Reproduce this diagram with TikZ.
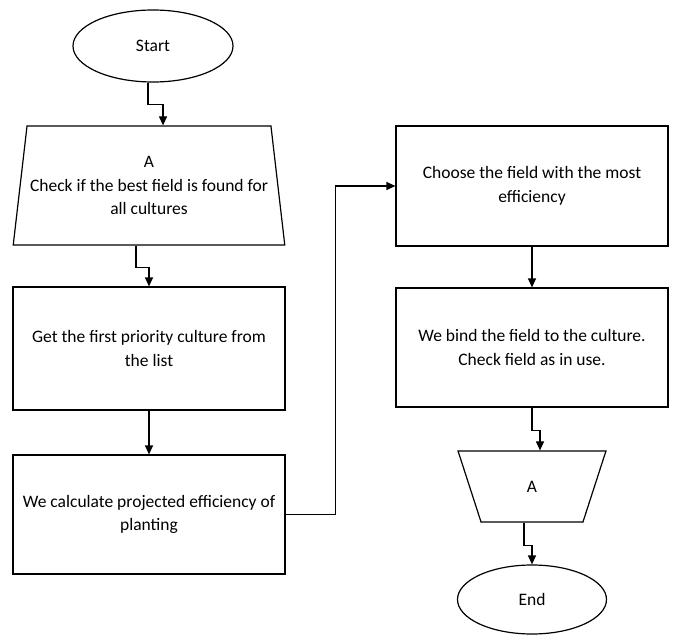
\documentclass[tikz,border=0pt]{standalone}
\usepackage{fontspec}
\setmainfont{Carlito}
\usetikzlibrary{shapes.geometric,arrows.meta}

\begin{document}
\begin{tikzpicture}[x=1pt,y=-1pt,
  every node/.style={font=\fontsize{17.5}{23.5}\selectfont, align=center},
  term/.style={draw, ellipse, line width=1.2pt, minimum width=160pt, minimum height=72pt, inner sep=0pt},
  procbox/.style={draw, rectangle, line width=1.2pt, minimum width=272pt, minimum height=120pt, inner sep=0pt},
  manual/.style={draw, trapezium, trapezium stretches=true, line width=1.2pt, inner sep=0pt},
  arr/.style={line width=1.2pt, -{Triangle[length=9pt,width=8pt]}}
]
  \useasboundingbox (0,0) rectangle (673,635);

  % Left column
  \node[term] (start) at (153,46) {Start};
  \node[manual, minimum width=272pt, minimum height=119pt,
        trapezium left angle=77, trapezium right angle=77] (check) at (149,185.5)
        {A\\Check if the best field is found for\\all cultures};
  \node[procbox, minimum height=123pt] (first) at (149,348.5)
        {Get the first priority culture from\\the list};
  \node[procbox, minimum height=119pt] (calc) at (149,514.5)
        {We calculate projected efficiency of\\planting};

  % Right column
  \node[procbox] (choose) at (532,186) {Choose the field with the most\\efficiency};
  \node[procbox, minimum height=119pt] (bind) at (532,347.5)
        {We bind the field to the culture.\\Check field as in use.};
  \node[manual, shape border rotate=180, minimum width=148pt, minimum height=71pt,
        trapezium left angle=78.5, trapezium right angle=78.5] (markA) at (532,486.5) {A};
  \node[term, minimum width=149pt, minimum height=69pt] (end) at (532,599.5) {End};

  % Connectors
  \draw[arr] ([xshift=-5pt]start.south) -- ++(0,22) -| ([xshift=14pt]check.north);
  \draw[arr] ([xshift=-13pt]check.south) -- ++(0,22) -| (first.north);
  \draw[arr] (first.south) -- (calc.north);
  \draw[arr] (calc.east) -- ++(50,0) |- (choose.west);
  \draw[arr] (choose.south) -- (bind.north);
  \draw[arr] (bind.south) -- ++(0,23) -| ([xshift=8pt]markA.north);
  \draw[arr] ([xshift=-8pt]markA.south) -- ++(0,23) -| (end.north);
\end{tikzpicture}
\end{document}
